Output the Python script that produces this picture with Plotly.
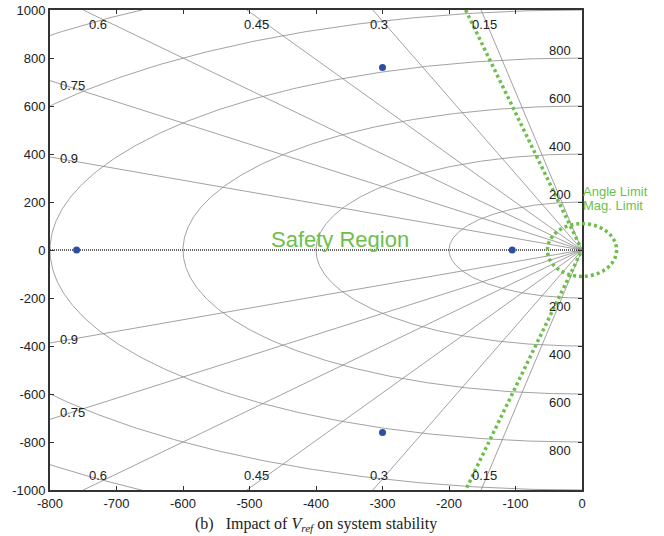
import numpy as np
import plotly.graph_objects as go

# ---- data ----
zeta_values = [0.15, 0.3, 0.45, 0.6, 0.75, 0.9]
zeta_labels = ["0.15", "0.3", "0.45", "0.6", "0.75", "0.9"]
wn_values = [200, 400, 600, 800, 1000, 1200]
wn_labels = ["200", "400", "600", "800"]
pole_re = [-760, -300, -300, -105]
pole_im = [0, 760, -760, 0]
angle_limit_re = [-175, 0, -175]
angle_limit_im = [1000, 0, -1000]
mag_limit_rx = 52
mag_limit_ry = 110
x_ticks = [-800, -700, -600, -500, -400, -300, -200, -100, 0]
y_ticks = [-1000, -800, -600, -400, -200, 0, 200, 400, 600, 800, 1000]
x_ticktext = [str(v) for v in x_ticks]
y_ticktext = [str(v) for v in y_ticks]

XMIN, XMAX = -800, 0
YMIN, YMAX = -1000, 1000

GRID = "#8a8a8a"
GREEN = "#6cbf4a"
BLUE = "#2c4fa3"
FONT = "Liberation Sans, Arial"

fig = go.Figure()

# damping-ratio rays
for z in zeta_values:
    s = np.sqrt(1 - z * z)
    t = min(abs(XMIN) / z, YMAX / s)
    for sign in (1, -1):
        fig.add_trace(go.Scatter(x=[0, -z * t], y=[0, sign * s * t], mode="lines",
                                 line=dict(color=GRID, width=0.8), hoverinfo="skip",
                                 showlegend=False))

# natural-frequency arcs
th = np.linspace(np.pi / 2, 3 * np.pi / 2, 400)
for wn in wn_values:
    fig.add_trace(go.Scatter(x=wn * np.cos(th), y=wn * np.sin(th), mode="lines",
                             line=dict(color=GRID, width=0.8), hoverinfo="skip",
                             showlegend=False))

# real axis
fig.add_trace(go.Scatter(x=[XMIN, XMAX], y=[0, 0], mode="lines",
                         line=dict(color="#333333", width=1.5, dash="1px,1px"),
                         hoverinfo="skip", showlegend=False))

# angle limit
fig.add_trace(go.Scatter(x=angle_limit_re, y=angle_limit_im, mode="lines",
                         line=dict(color=GREEN, width=3.5, dash="3px,3px"),
                         hoverinfo="skip", showlegend=False))

# poles
fig.add_trace(go.Scatter(x=pole_re, y=pole_im, mode="markers",
                         marker=dict(color=BLUE, size=7), showlegend=False))

annotations = []
lab_font = dict(family=FONT, size=13, color="#222222")
# zeta labels
for z, lab in zip(zeta_values, zeta_labels):
    s = np.sqrt(1 - z * z)
    slope = s / z
    if YMAX / slope <= abs(XMIN):
        xr = -0.97 * YMAX / slope
        for sign in (1, -1):
            annotations.append(dict(x=xr, y=sign * 940, text=lab, showarrow=False,
                                    xanchor="center", yanchor="middle",
                                    font=lab_font))
    else:
        xl = -788
        for sign in (1, -1):
            annotations.append(dict(x=xl, y=sign * abs(xl + 18) * slope, text=lab,
                                    showarrow=False, xanchor="left", yanchor="middle",
                                    yshift=2 if sign > 0 else 0, font=lab_font))
# wn labels
for wn, lab in zip(wn_values, wn_labels):
    for sign in (1, -1):
        annotations.append(dict(x=-13, y=sign * wn, text=lab, showarrow=False,
                                xanchor="right", yanchor="middle",
                                yshift=8 * sign, font=lab_font))

annotations.append(dict(x=-364, y=44, text="Safety Region", showarrow=False,
                        xanchor="center", yanchor="middle",
                        font=dict(family=FONT, size=22, color=GREEN)))
annotations.append(dict(x=0, y=244, text="Angle Limit", showarrow=False,
                        xanchor="left", yanchor="middle", xshift=-1,
                        font=dict(family=FONT, size=13, color=GREEN)))
annotations.append(dict(x=0, y=185, text="Mag. Limit", showarrow=False,
                        xanchor="left", yanchor="middle", xshift=-1,
                        font=dict(family=FONT, size=13, color=GREEN)))
annotations.append(dict(x=0.5, y=-0.072, xref="paper", yref="paper",
                        text="(b)&nbsp;&nbsp;&nbsp;Impact of <i>V<sub>ref</sub></i> on system stability",
                        showarrow=False, xanchor="center", yanchor="middle",
                        font=dict(family="Liberation Serif, Times New Roman", size=16,
                                  color="#222222")))

# magnitude limit ellipse (drawn in axis-domain coords so it may leave the plot area)
fig.add_shape(type="circle", xref="x domain", yref="y domain",
              x0=(-mag_limit_rx - XMIN) / (XMAX - XMIN),
              x1=(mag_limit_rx - XMIN) / (XMAX - XMIN),
              y0=(-mag_limit_ry - YMIN) / (YMAX - YMIN),
              y1=(mag_limit_ry - YMIN) / (YMAX - YMIN),
              line=dict(color=GREEN, width=3.5, dash="3px,3px"))

axis_common = dict(showgrid=False, zeroline=False, showline=True, mirror="ticks",
                   linecolor="#333333", linewidth=1.8, ticks="inside", ticklen=4,
                   tickcolor="#333333", tickwidth=1, automargin=False,
                   tickfont=dict(family=FONT, size=13, color="#222222"))

fig.update_layout(
    width=664, height=536,
    margin=dict(l=50, r=82, t=10, b=46),
    paper_bgcolor="white", plot_bgcolor="white",
    xaxis=dict(range=[XMIN, XMAX], tickvals=x_ticks, ticktext=x_ticktext, **axis_common),
    yaxis=dict(range=[YMIN, YMAX], tickvals=y_ticks, ticktext=y_ticktext, **axis_common),
    annotations=annotations,
    showlegend=False,
)

fig.write_html("out.html", config={"displayModeBar": False},
               post_script="document.body.style.margin='0';document.body.style.overflow='hidden';")
